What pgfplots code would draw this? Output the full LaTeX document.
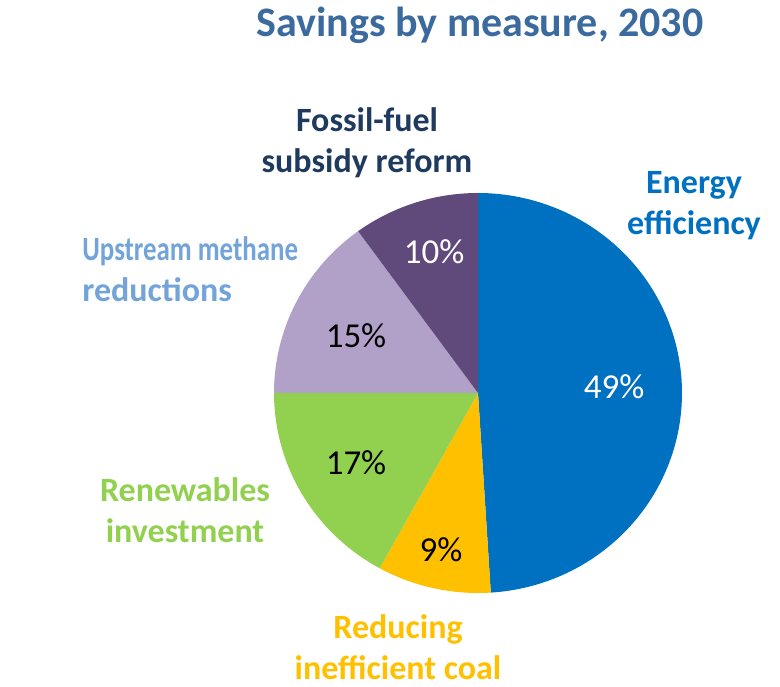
\documentclass[border=0pt]{standalone}
\usepackage{pgfplots}
\pgfplotsset{compat=1.18}
\usepackage{graphicx}
\usepackage{fontspec}
\setmainfont{Carlito}

\definecolor{cEE}{HTML}{0070C0}
\definecolor{cCoal}{HTML}{FFC000}
\definecolor{cRen}{HTML}{92D050}
\definecolor{cUps}{HTML}{B1A0C7}
\definecolor{cFos}{HTML}{604A7B}
\definecolor{cTitle}{HTML}{3A6A9E}
\definecolor{cFosTxt}{HTML}{1F3A5F}
\definecolor{cUpsTxt}{HTML}{72A3D9}

% shares in percent, clockwise from 12 o'clock
\def\vEE{49}
\def\vCoal{9}
\def\vRen{17}
\def\vUps{15}
\def\vFos{10}

\tikzset{
  lbl/.style={font=\fontsize{17}{20.5}\selectfont\bfseries, align=center, inner sep=0pt},
  pct/.style={font=\fontsize{17.5}{20}\selectfont, inner sep=0pt},
}

\begin{document}
\begin{tikzpicture}
\pgfmathsetmacro\aA{90}
\pgfmathsetmacro\aB{\aA-3.6*\vEE}
\pgfmathsetmacro\aC{\aB-3.6*\vCoal}
\pgfmathsetmacro\aD{\aC-3.6*\vRen}
\pgfmathsetmacro\aE{\aD-3.6*\vUps}
\pgfmathsetmacro\aF{\aE-3.6*\vFos}
\begin{axis}[
  scale only axis, width=390pt, height=343pt,
  xmin=0, xmax=780, ymin=0, ymax=686,
  hide axis, clip=false,
]
\addplot[draw=none, fill=cEE, domain=\aB:\aA, samples=120] ({478+204*cos(x)},{293+200*sin(x)}) -- (axis cs:478,293) -- cycle;
\addplot[draw=none, fill=cCoal, domain=\aC:\aB, samples=40] ({478+204*cos(x)},{293+200*sin(x)}) -- (axis cs:478,293) -- cycle;
\addplot[draw=none, fill=cRen, domain=\aD:\aC, samples=60] ({478+204*cos(x)},{293+200*sin(x)}) -- (axis cs:478,293) -- cycle;
\addplot[draw=none, fill=cUps, domain=\aE:\aD, samples=60] ({478+204*cos(x)},{293+200*sin(x)}) -- (axis cs:478,293) -- cycle;
\addplot[draw=none, fill=cFos, domain=\aF:\aE, samples=40] ({478+204*cos(x)},{293+200*sin(x)}) -- (axis cs:478,293) -- cycle;

\node[pct, white] at (axis cs:614,299) {49\%};
\node[pct, black] at (axis cs:441,136) {9\%};
\node[pct, black] at (axis cs:356,223) {17\%};
\node[pct, black] at (axis cs:356,350) {15\%};
\node[pct, white] at (axis cs:434,434) {10\%};

\node[lbl, cTitle, font=\fontsize{21}{24}\selectfont\bfseries] at (axis cs:480,661) {Savings by measure, 2030};
\node[lbl, cFosTxt] at (axis cs:367,543) {Fossil-fuel\\subsidy reform};
\node[lbl, cEE] at (axis cs:694,480) {Energy\\efficiency};
\node[lbl, cUpsTxt, anchor=west, align=left] at (axis cs:82,417) {\scalebox{0.79}[1]{Upstream methane}\\reductions};
\node[lbl, cRen] at (axis cs:185,176) {Renewables\\investment};
\node[lbl, cCoal] at (axis cs:398,39) {Reducing\\inefficient coal};

\coordinate (sw) at (axis cs:0,0);
\coordinate (ne) at (axis cs:780,686);
\end{axis}
\pgfresetboundingbox
\path (sw) rectangle (ne);
\end{tikzpicture}
\end{document}
